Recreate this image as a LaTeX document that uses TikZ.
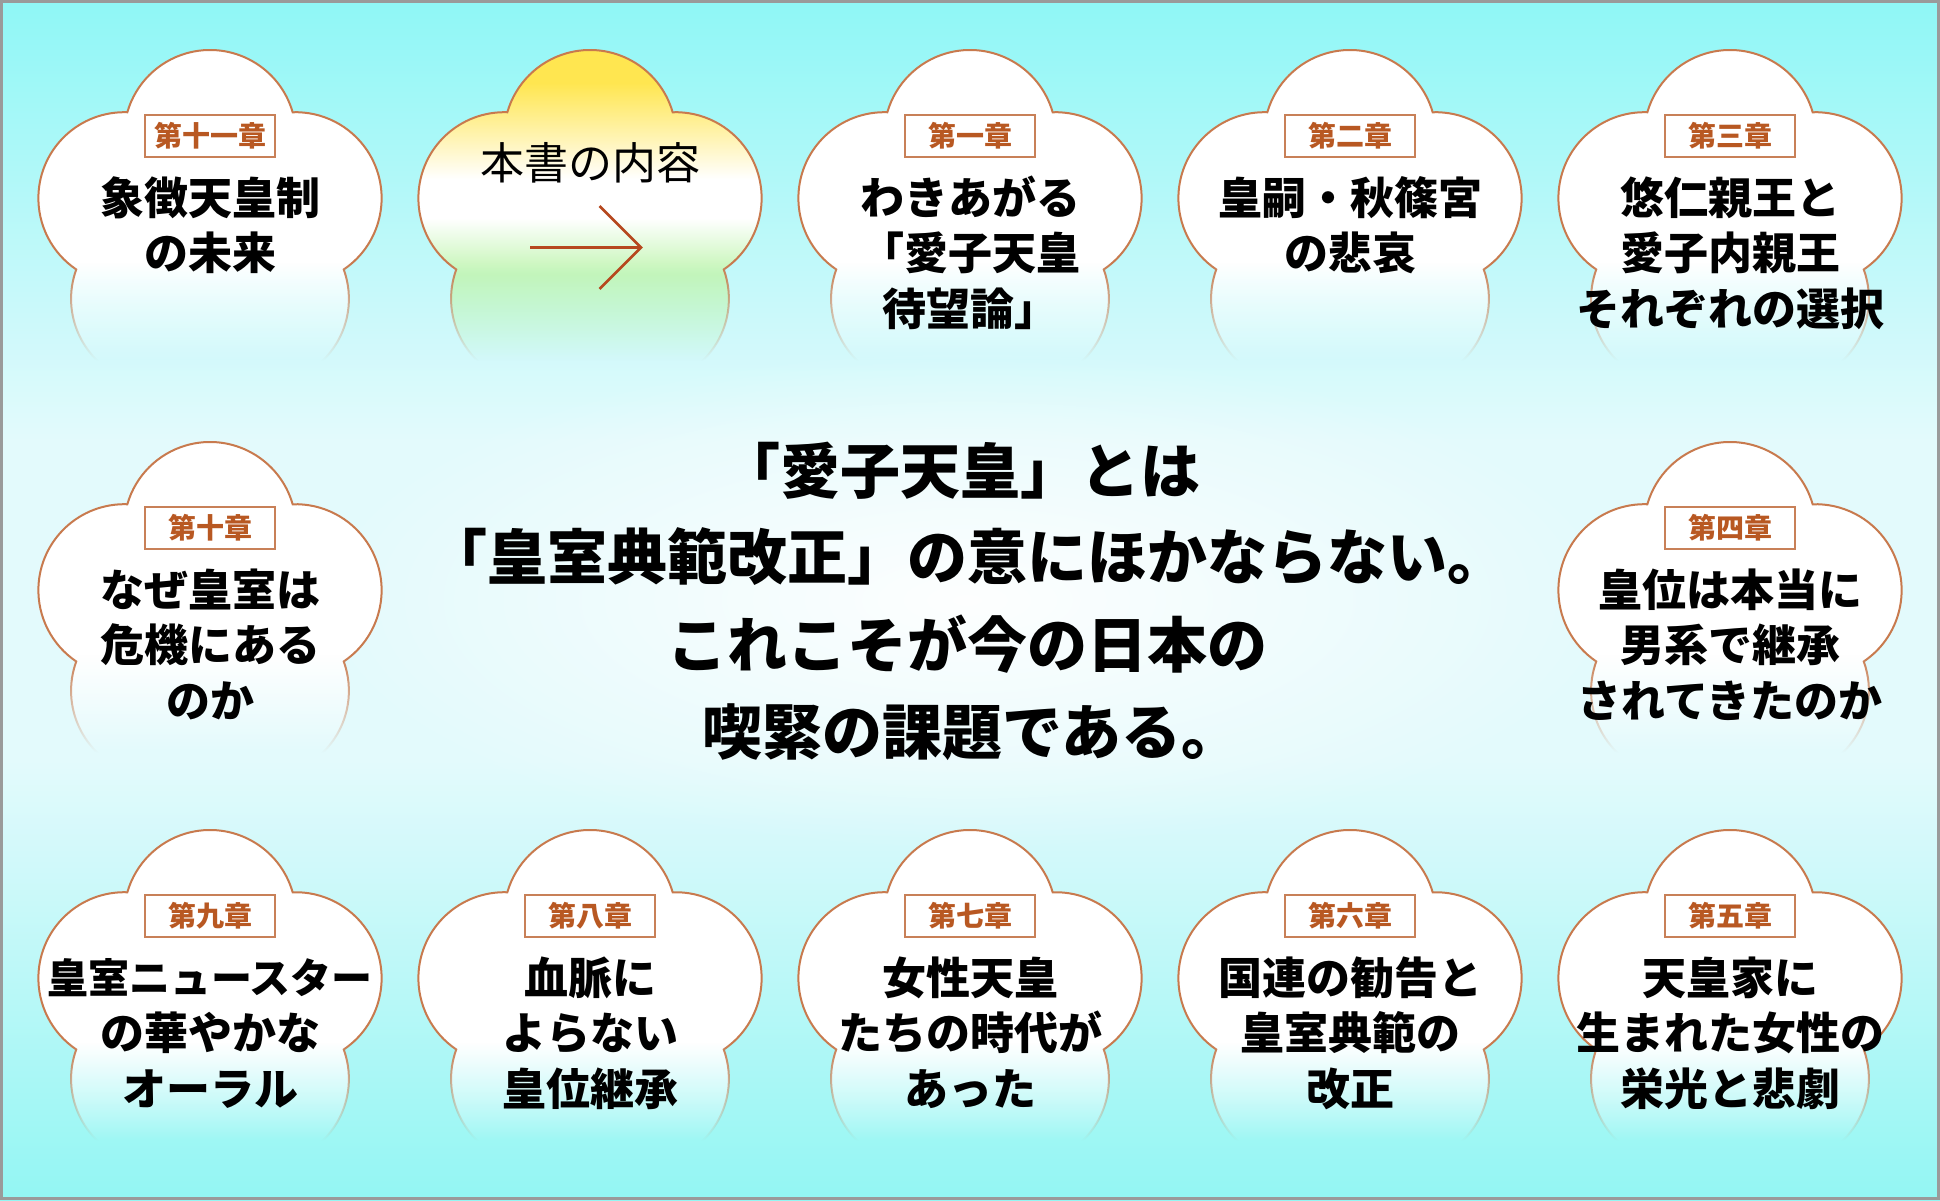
\documentclass[tikz,border=0pt]{standalone}
\usepackage{fontspec}
\newfontfamily\jp{Noto Sans CJK JP}
\usetikzlibrary{fadings}
\definecolor{bgtop}{HTML}{8FF7F6}
\definecolor{bgmid}{HTML}{E3FAFC}
\definecolor{bgbot}{HTML}{93F6F3}
\definecolor{framegray}{HTML}{9A9A9A}
\definecolor{umeline}{RGB}{200,122,78}
\definecolor{labtext}{RGB}{184,88,34}
\definecolor{labbox}{RGB}{200,128,88}
\definecolor{arrowc}{RGB}{182,72,30}
\definecolor{hsyellow}{HTML}{FFE650}
\definecolor{hspale}{HTML}{FFF6C4}
\definecolor{hsgreen}{HTML}{C2F5B2}

\tikzfading[name=glowfade, inner color=transparent!0, outer color=transparent!100]
\pgfdeclareverticalshading{umefadeshading}{100bp}{color(0bp)=(black); color(16.5bp)=(black); color(41bp)=(white); color(100bp)=(white)}
\pgfdeclarefading{umefade}{\pgfuseshading{umefadeshading}}
\pgfdeclareverticalshading{honsho}{100bp}{color(0bp)=(hsgreen); color(42bp)=(hsgreen); color(50bp)=(white); color(55.5bp)=(white); color(60bp)=(hspale); color(69bp)=(hsyellow); color(100bp)=(hsyellow)}

\newcommand\umeshape[2]{({#1+82.65},{#2-113.75}) arc[start angle=-16.03,end angle=-163.97,radius=86] arc[start angle=-88.03,end angle=-235.97,radius=86] arc[start angle=-160.03,end angle=-307.97,radius=86] arc[start angle=-232.03,end angle=-379.97,radius=86] arc[start angle=-304.03,end angle=-451.97,radius=86] -- cycle}

\tikzset{
  umebody/.style={fill=white, draw=umeline, line width=2pt},
  hsbody/.style={shading=honsho, draw=umeline, line width=2pt},
  umefaded/.style={path fading=umefade, fit fading=false, fading transform={shift={#1}, scale=4}},
  umetxt/.style={font=\jp\bfseries\fontsize{44}{44}\selectfont, anchor=base, inner sep=0pt},
  umetxtsm/.style={font=\jp\bfseries\fontsize{41}{41}\selectfont, anchor=base, inner sep=0pt},
  umelab/.style={draw=labbox, line width=1.6pt, fill=white, minimum width=130pt, minimum height=42pt, inner sep=0pt, font=\jp\bfseries\fontsize{28}{28}\selectfont, text=labtext},
  centertxt/.style={font=\jp\bfseries\fontsize{60}{60}\selectfont, anchor=base, inner sep=0pt},
  hstxt/.style={font=\jp\fontsize{44}{44}\selectfont, anchor=base, inner sep=0pt},
  arrowline/.style={draw=arrowc, line width=2.8pt}
}

\newcommand\umeflower[2]{%
  \path[umebody, umefaded={(#1,#2)}] \umeshape{#1}{#2};}
\newcommand\umelabel[4]{\node[umelab] (#1) at (#2,#3-90) {#4};}
\newcommand\umethree[6]{%
  \node[umetxt] (#1a) at (#2,#3-11.7) {#4};
  \node[umetxt] (#1b) at (#2,#3+43.8) {#5};
  \node[umetxt] (#1c) at (#2,#3+99.3) {#6};}
\newcommand\umetwo[5]{%
  \node[umetxt] (#1a) at (#2,#3-11.7) {#4};
  \node[umetxt] (#1b) at (#2,#3+43.8) {#5};}

\begin{document}
\begin{tikzpicture}[x=1pt,y=-1pt]
\useasboundingbox (0,0) rectangle (1940,1200);
% background
\shade[top color=bgtop, bottom color=bgmid] (0,0) rectangle (1940,441);
\fill[bgmid] (0,440) rectangle (1940,761);
\shade[top color=bgmid, bottom color=bgbot] (0,760) rectangle (1940,1200);
\fill[white, path fading=glowfade, opacity=0.95] (967,600) ellipse [x radius=660, y radius=250];

% flowers
\umeflower{210}{226}
\shade[hsbody, umefaded={(590,226)}] \umeshape{590}{226};
\umeflower{970}{226}
\umeflower{1350}{226}
\umeflower{1730}{226}
\umeflower{210}{618}
\umeflower{1730}{618}
\umeflower{210}{1006}
\umeflower{590}{1006}
\umeflower{970}{1006}
\umeflower{1350}{1006}
\umeflower{1730}{1006}

% top row
\umelabel{l11}{210}{226}{第十一章}
\umetwo{t11}{210}{226}{象徴天皇制}{の未来}

\node[hstxt] (hs) at (590,179.3) {本書の内容};
\coordinate (arS) at (530,247.5);
\coordinate (arT) at (641,247.5);
\coordinate (arU) at (599.5,206);
\coordinate (arL) at (599.5,289);
\draw[arrowline] (arS) -- (arT);
\draw[arrowline] (arU) -- (arT) -- (arL);

\umelabel{l1}{970}{226}{第一章}
\umethree{t1}{970}{226}{わきあがる}{「愛子天皇}{待望論」}
\umelabel{l2}{1350}{226}{第二章}
\umetwo{t2}{1350}{226}{皇嗣・秋篠宮}{の悲哀}
\umelabel{l3}{1730}{226}{第三章}
\umethree{t3}{1730}{226}{悠仁親王と}{愛子内親王}{それぞれの選択}

% middle row
\umelabel{l10}{210}{618}{第十章}
\umethree{t10}{210}{618}{なぜ皇室は}{危機にある}{のか}
\umelabel{l4}{1730}{618}{第四章}
\umethree{t4}{1730}{618}{皇位は本当に}{男系で継承}{されてきたのか}

% bottom row
\umelabel{l9}{210}{1006}{第九章}
\node[umetxtsm] (t9a) at (210,1006-12.2) {皇室ニュースター};
\node[umetxt] (t9b) at (210,1006+43.8) {の華やかな};
\node[umetxt] (t9c) at (210,1006+99.3) {オーラル};
\umelabel{l8}{590}{1006}{第八章}
\umethree{t8}{590}{1006}{血脈に}{よらない}{皇位継承}
\umelabel{l7}{970}{1006}{第七章}
\umethree{t7}{970}{1006}{女性天皇}{たちの時代が}{あった}
\umelabel{l6}{1350}{1006}{第六章}
\umethree{t6}{1350}{1006}{国連の勧告と}{皇室典範の}{改正}
\umelabel{l5}{1730}{1006}{第五章}
\umethree{t5}{1730}{1006}{天皇家に}{生まれた女性の}{栄光と悲劇}

% center text
\node[centertxt] (c1) at (960,493.2) {「愛子天皇」とは};
\node[centertxt] (c2) at (967,579.2) {「皇室典範改正」の意にほかならない。};
\node[centertxt] (c3) at (967,667.2) {これこそが今の日本の};
\node[centertxt] (c4) at (972,754.2) {喫緊の課題である。};

% frame
\draw[framegray, line width=3pt] (1.5,1.5) rectangle (1938.5,1198.5);
\end{tikzpicture}
\end{document}
